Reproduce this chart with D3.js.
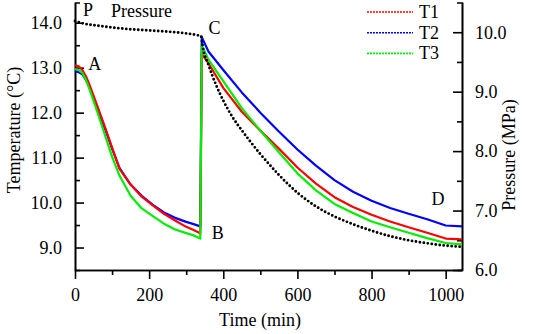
<!DOCTYPE html>
<html>
<head>
<meta charset="utf-8">
<script src="https://cdn.jsdelivr.net/npm/d3@7"></script>
<style>
  body { margin: 0; background: #fff; }
  svg { display: block; }
  svg text { font-family: "Liberation Serif", serif; }
</style>
</head>
<body>
<svg id="chart"></svg>
<script>
const width = 533;
const height = 334;
const margin = { top: 2.5, bottom: 64, left: 75, right: 71 };
const serif = "Liberation Serif, serif";

// temperature readings, stage 1 (cooling) and stage 2 (after re-charge)
const tempTime1 = [0, 10, 20, 30, 40, 60, 80, 100, 120, 150, 180, 210, 240, 270, 300, 320, 338];
const tempTime2 = [342, 360, 400, 450, 500, 550, 600, 650, 700, 750, 800, 850, 900, 950, 1000, 1044];

const t1Stage1 = [13.05, 13.03, 12.95, 12.8, 12.6, 12.15, 11.7, 11.22, 10.75, 10.4, 10.13, 9.94, 9.75, 9.6, 9.46, 9.39, 9.32];
const t2Stage1 = [12.92, 12.9, 12.85, 12.72, 12.55, 12.12, 11.66, 11.2, 10.77, 10.4, 10.15, 9.95, 9.78, 9.66, 9.57, 9.52, 9.47];
const t3Stage1 = [12.97, 12.95, 12.88, 12.72, 12.5, 12.02, 11.52, 11.02, 10.6, 10.15, 9.87, 9.7, 9.53, 9.4, 9.32, 9.27, 9.2];

const t1Stage2 = [13.3, 13.1, 12.55, 12.02, 11.6, 11.2, 10.78, 10.42, 10.12, 9.9, 9.73, 9.58, 9.45, 9.33, 9.2, 9.18];
const t2Stage2 = [13.68, 13.36, 12.95, 12.45, 12.0, 11.58, 11.18, 10.82, 10.5, 10.24, 10.04, 9.88, 9.75, 9.63, 9.49, 9.47];
const t3Stage2 = [13.5, 13.18, 12.7, 12.1, 11.6, 11.12, 10.65, 10.27, 9.97, 9.77, 9.58, 9.45, 9.33, 9.21, 9.1, 9.07];

// pressure (MPa)
const presTime = [0, 20, 50, 100, 150, 200, 250, 300, 330, 340, 345, 360, 380, 400, 425, 450, 500, 550, 600, 650, 700, 750, 800, 850, 900, 950, 1000, 1044];
const presValues = [10.19, 10.15, 10.12, 10.08, 10.05, 10.03, 10.01, 9.98, 9.95, 9.93, 9.74, 9.45, 9.12, 8.85, 8.57, 8.35, 7.95, 7.6, 7.3, 7.07, 6.9, 6.77, 6.66, 6.57, 6.5, 6.45, 6.41, 6.39];

const seriesNames = ["T1", "T2", "T3"];
const seriesColors = ["#ff0000", "#0000ff", "#00ee00"];

const xTicks = [0, 200, 400, 600, 800, 1000];
const xMinorTicks = [100, 300, 500, 700, 900];
const tempTicks = [9, 10, 11, 12, 13, 14];
const tempMinorTicks = [9.5, 10.5, 11.5, 12.5, 13.5];
const presTicks = [6, 7, 8, 9, 10];
const presMinorTicks = [6.5, 7.5, 8.5, 9.5];

const pointLabels = [
    { text: "A", t: 36, v: 12.95 },
    { text: "B", t: 369, v: 9.18 },
    { text: "C", t: 360, v: 13.75 },
    { text: "D", t: 962, v: 9.95 }
];

const svg = d3.select("#chart")
    .attr("width", width)
    .attr("height", height)
    .attr("font-family", serif);

const xScale = d3.scaleLinear()
    .domain([0, 1044])
    .range([margin.left, width - margin.right]);

const yTemp = d3.scaleLinear()
    .domain([8.5, 14.45])
    .range([height - margin.bottom, margin.top]);

const yPres = d3.scaleLinear()
    .domain([6, 10.5])
    .range([height - margin.bottom, margin.top]);

const fmt = d3.format(".1f");

// x axis, ticks outward
svg.append("g")
    .attr("transform", `translate(0, ${height - margin.bottom})`)
    .call(d3.axisBottom(xScale).tickValues(xMinorTicks).tickSize(5).tickSizeOuter(0).tickFormat(""));
svg.append("g")
    .attr("transform", `translate(0, ${height - margin.bottom})`)
    .call(d3.axisBottom(xScale).tickValues(xTicks).tickSize(9).tickSizeOuter(0).tickPadding(9).tickFormat(d3.format("d")))
    .attr("font-size", "18px")
    .attr("font-family", serif);

// left axis, ticks inward
svg.append("g")
    .attr("transform", `translate(${margin.left}, 0)`)
    .call(d3.axisRight(yTemp).tickValues(tempMinorTicks).tickSize(5).tickSizeOuter(0).tickFormat(""));
svg.append("g")
    .attr("transform", `translate(${margin.left}, 0)`)
    .call(d3.axisRight(yTemp).tickValues(tempTicks).tickSize(9).tickSizeOuter(5).tickFormat(""));
svg.append("g")
    .selectAll("text")
    .data(tempTicks)
    .join("text")
    .attr("x", margin.left - 13)
    .attr("y", d => yTemp(d))
    .attr("dy", "0.35em")
    .attr("text-anchor", "end")
    .attr("font-size", "18px")
    .text(fmt);

// right axis, ticks inward
const xRight = width - margin.right;
svg.append("g")
    .attr("transform", `translate(${xRight}, 0)`)
    .call(d3.axisLeft(yPres).tickValues(presMinorTicks).tickSize(5).tickSizeOuter(0).tickFormat(""));
svg.append("g")
    .attr("transform", `translate(${xRight}, 0)`)
    .call(d3.axisLeft(yPres).tickValues(presTicks).tickSize(9).tickSizeOuter(5).tickFormat(""));
svg.append("g")
    .selectAll("text")
    .data(presTicks)
    .join("text")
    .attr("x", xRight + 13)
    .attr("y", d => yPres(d))
    .attr("dy", "0.35em")
    .attr("font-size", "18px")
    .text(fmt);

svg.selectAll(".domain, .tick line").attr("stroke", "#000").attr("stroke-width", 1.6);

// axis titles
svg.append("text")
    .attr("transform", `translate(20, 130) rotate(-90)`)
    .attr("text-anchor", "middle")
    .attr("font-size", "18px")
    .text("Temperature (°C)");

svg.append("text")
    .attr("transform", `translate(515, 155) rotate(-90)`)
    .attr("text-anchor", "middle")
    .attr("font-size", "18px")
    .text("Pressure (MPa)");

svg.append("text")
    .attr("x", 260)
    .attr("y", 326)
    .attr("text-anchor", "middle")
    .attr("font-size", "18px")
    .text("Time (min)");

// temperature series
const tempLine = d3.line()
    .x(d => xScale(d[0]))
    .y(d => yTemp(d[1]));

const stage1 = [t1Stage1, t2Stage1, t3Stage1];
const stage2 = [t1Stage2, t2Stage2, t3Stage2];
const drawOrder = [1, 0, 2];

drawOrder.forEach(i => {
    const pts = tempTime1.map((t, j) => [t, stage1[i][j]])
        .concat(tempTime2.map((t, j) => [t, stage2[i][j]]));
    svg.append("path")
        .datum(pts)
        .attr("fill", "none")
        .attr("stroke", seriesColors[i])
        .attr("stroke-width", 2.2)
        .attr("stroke-linejoin", "round")
        .attr("d", tempLine);
});

// pressure series, dotted
const presLine = d3.line()
    .curve(d3.curveMonotoneX)
    .x(d => xScale(d[0]))
    .y(d => yPres(d[1]));

svg.append("path")
    .datum(presTime.map((t, j) => [t, presValues[j]]))
    .attr("fill", "none")
    .attr("stroke", "#000")
    .attr("stroke-width", 2.9)
    .attr("stroke-linecap", "round")
    .attr("stroke-dasharray", "0,4")
    .attr("d", presLine);

// legend
const legend = svg.append("g");
seriesNames.forEach((name, i) => {
    const y = 12 + i * 20.7;
    legend.append("line")
        .attr("x1", 367).attr("x2", 413)
        .attr("y1", y).attr("y2", y)
        .attr("stroke", seriesColors[i])
        .attr("stroke-width", 1.6)
        .attr("stroke-dasharray", "2,1");
    legend.append("text")
        .attr("x", 419)
        .attr("y", y + 6)
        .attr("font-size", "18px")
        .text(name);
});

// point labels
svg.append("text").attr("x", 83).attr("y", 16).attr("font-size", "18px").text("P");
svg.append("text").attr("x", 111).attr("y", 17).attr("font-size", "18px").text("Pressure");

svg.append("g")
    .selectAll("text")
    .data(pointLabels)
    .join("text")
    .attr("x", d => xScale(d.t))
    .attr("y", d => yTemp(d.v))
    .attr("font-size", "18px")
    .text(d => d.text);
</script>
</body>
</html>
